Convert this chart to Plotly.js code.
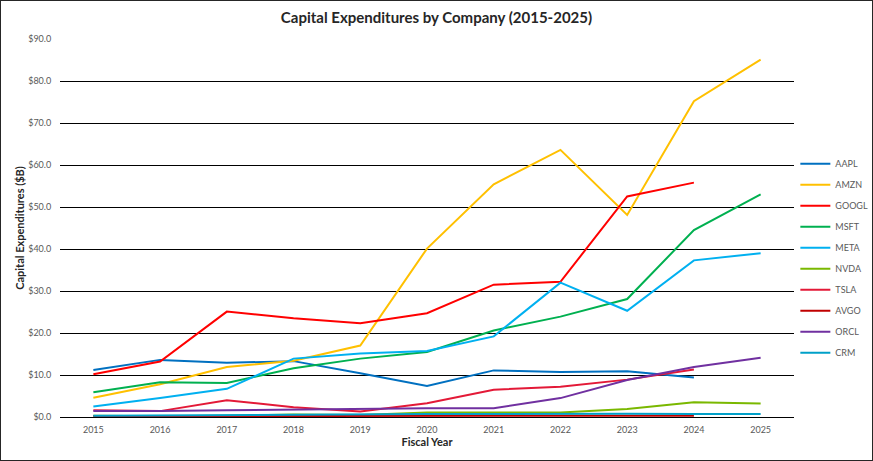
<!DOCTYPE html>
<html>
<head>
<meta charset="utf-8">
<script src="https://cdn.plot.ly/plotly-3.0.1.min.js"></script>
<style>
html,body{margin:0;padding:0;background:#fff;}
#wrap{width:871px;height:459px;border:1px solid #262626;}
#chart{width:871px;height:459px;}
</style>
</head>
<body>
<div id="wrap"><div id="chart"></div></div>
<script>
const years = [2015,2016,2017,2018,2019,2020,2021,2022,2023,2024,2025];
const companies = ["AAPL","AMZN","GOOGL","MSFT","META","NVDA","TSLA","AVGO","ORCL","CRM"];
const AAPL  = [11.2,13.6,12.9,13.3,10.4,7.4,11.1,10.7,10.9,9.4,null];
const AMZN  = [4.6,7.8,11.9,13.4,17.0,40.1,55.4,63.6,48.1,75.2,85.1];
const GOOGL = [10.2,13.2,25.1,23.5,22.3,24.7,31.5,32.2,52.5,55.8,null];
const MSFT  = [5.9,8.3,8.1,11.6,13.9,15.5,20.6,23.9,28.1,44.5,53.0];
const META  = [2.5,4.5,6.7,13.9,15.1,15.7,19.2,32.0,25.3,37.3,39.0];
const NVDA  = [0.3,0.2,0.3,0.6,0.5,1.1,1.1,1.1,1.9,3.5,3.2];
const TSLA  = [1.6,1.4,4.0,2.3,1.3,3.3,6.5,7.2,8.9,11.3,null];
const AVGO  = [0.2,0.2,0.2,0.3,0.3,0.3,0.3,0.3,0.3,0.3,null];
const ORCL  = [1.4,1.4,1.6,1.8,2.0,2.1,2.1,4.5,8.8,11.9,14.1];
const CRM   = [0.3,0.4,0.5,0.6,0.6,0.7,0.7,0.8,0.8,0.7,0.7];
const yTicks = [0,10,20,30,40,50,60,70,80,90];
const colors = ["#0070C0","#FFC000","#FF0000","#00B050","#00B0F0","#7AB800","#E31937","#C00000","#7030A0","#00A0C8"];
const series = [AAPL,AMZN,GOOGL,MSFT,META,NVDA,TSLA,AVGO,ORCL,CRM];

const traces = companies.map((c,i)=>({
  x: years, y: series[i], name: c, type:'scatter', mode:'lines',
  legendgroup: c,
  line:{color:colors[i], width:2}
}));
const FONT = "Lato, 'Liberation Sans', sans-serif";
const layout = {
  width:871, height:459,
  margin:{l:59,r:78,t:38,b:43},
  paper_bgcolor:'#fff', plot_bgcolor:'#fff',
  font:{family:FONT, color:'#595959', size:9},
  title:{text:'<b>Capital Expenditures by Company (2015-2025)</b>', font:{family:FONT,size:15,color:'#262626'}, x:0.5, xanchor:'center', y:0.963, yanchor:'middle'},
  xaxis:{
    range:[2014.5,2025.5], tickvals:years, ticktext:years.map(String),
    showgrid:false, zeroline:false, showline:true, linecolor:'#000', linewidth:1,
    ticks:'outside', ticklen:4, tickcolor:'rgba(0,0,0,0)',
    tickfont:{size:9,color:'#595959'},
    title:{text:'<b>Fiscal Year</b>', font:{size:11,color:'#262626'}, standoff:2}
  },
  yaxis:{
    range:[0,90], tickvals:yTicks, ticktext:yTicks.map(v=>'$'+v.toFixed(1)),
    showgrid:true, gridcolor:'#000', gridwidth:1, zeroline:false, showline:false,
    ticks:'outside', ticklen:6, tickcolor:'rgba(0,0,0,0)',
    tickfont:{size:9,color:'#595959'},
    title:{text:'<b>Capital Expenditures ($B)</b>', font:{size:11,color:'#262626'}, standoff:1}
  },
  legend:{xref:'container', yref:'container', x:0.912, xanchor:'left', y:0.677, yanchor:'top',
    traceorder:'grouped', tracegroupgap:2,
    font:{size:9,color:'#595959'}, bgcolor:'rgba(0,0,0,0)', itemwidth:30},
  showlegend:true
};
Plotly.newPlot('chart', traces, layout, {displayModeBar:false, staticPlot:true});
</script>
</body>
</html>
